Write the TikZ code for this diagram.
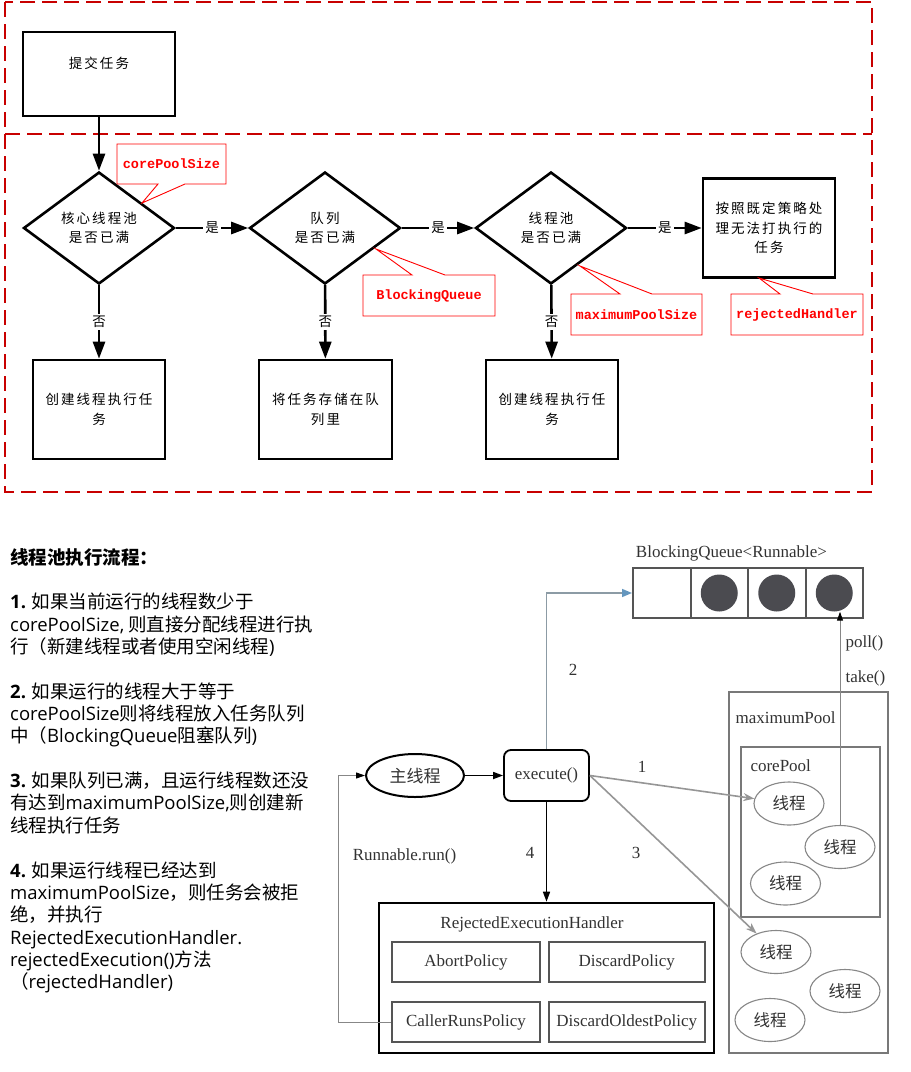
\documentclass[tikz,border=0pt]{standalone}
\usepackage{fontspec}
\setmainfont{Liberation Serif}
\newfontfamily\cjkfont{Noto Sans CJK SC}
\newfontfamily\cjkwide[LetterSpace=15]{Noto Sans CJK SC}
\newfontfamily\tagfont{Liberation Mono}
\newfontfamily\latfont{Open Sans}
\usetikzlibrary{shapes.geometric, arrows.meta}

\definecolor{dashred}{RGB}{200,0,0}
\definecolor{tagred}{RGB}{255,0,0}
\definecolor{pengray}{RGB}{85,85,85}
\definecolor{poolgray}{RGB}{120,120,120}
\definecolor{threadgray}{RGB}{135,135,135}
\definecolor{arrowgray}{RGB}{150,150,150}
\definecolor{linkgray}{RGB}{140,155,165}
\definecolor{linkblue}{RGB}{100,150,190}
\definecolor{dotgray}{RGB}{75,75,80}
\definecolor{inkgray}{RGB}{50,50,50}

\begin{document}
\begin{tikzpicture}[x=1pt, y=-1pt,
    cjktext/.style={font=\cjkwide\fontsize{13.5}{19.5}\selectfont, align=center},
    flowbox/.style={draw, line width=2.6pt, cjktext, inner sep=0pt},
    decision/.style={flowbox, diamond, aspect=1.35, minimum width=151pt, minimum height=112pt},
    flowarrow/.style={-{Triangle[length=17pt, width=12pt]}, line width=2.6pt},
    answer/.style={font=\cjkfont\fontsize{13.5}{15}\selectfont, fill=white, inner sep=2pt},
    tagshape/.style={draw=tagred, line width=0.9pt, fill=white},
    tagtext/.style={font=\tagfont\bfseries\fontsize{13.5}{13.5}\selectfont, text=tagred},
    redframe/.style={draw=dashred, line width=2pt, dash pattern=on 15pt off 7pt},
    notes/.style={font=\cjkfont\fontsize{18.5}{22.35}\selectfont, align=left, inner sep=0pt},
    serif/.style={font=\fontsize{17}{19}\selectfont, text=inkgray},
    worker/.style={ellipse, draw=threadgray, line width=1.1pt, minimum width=70pt, minimum height=43pt, inner sep=0pt, font=\cjkfont\fontsize{16.5}{18}\selectfont, text=inkgray},
    cell/.style={draw=pengray, line width=2pt, minimum width=57.5pt, minimum height=50pt, inner sep=0pt},
    job/.style={circle, fill=dotgray, minimum size=37pt, inner sep=0pt},
    policy/.style={serif, draw=pengray, line width=2pt, minimum height=40pt, inner sep=0pt},
    poolframe/.style={draw=poolgray, line width=2.2pt, inner sep=0pt},
    grayarrow/.style={draw=arrowgray, line width=1.6pt, -{Stealth[length=11pt, width=8pt]}},
    linkarrow/.style={draw=linkgray, line width=1.6pt, -{Triangle[length=10pt, width=8pt, color=linkblue]}},
    blackarrow/.style={line width=1.6pt, -{Triangle[length=10pt, width=7pt]}},
    thinarrow/.style={draw=threadgray, line width=1pt, -{Triangle[length=9pt, width=6pt, color=black]}}]

    \useasboundingbox (0,0) rectangle (911,1072);

    % Frame
    \draw[redframe] (5,2) rectangle (872,492);
    \draw[redframe] (5,134) -- (872,134);

    % Flow nodes
    \node[flowbox, minimum width=152pt, minimum height=84pt] (submit) at (99,74) {};
    \node[cjktext] (submittext) at (99,63) {提交任务};
    \node[decision] (core) at (99,228) {核心线程池\\是否已满};
    \node[decision] (queue) at (325,228) {队列\\是否已满};
    \node[decision] (pool) at (551,228) {线程池\\是否已满};
    \node[flowbox, minimum width=132pt, minimum height=99pt] (reject) at (769,228) {按照既定策略处\\理无法打执行的\\任务};
    \node[flowbox, minimum width=132pt, minimum height=99pt] (newcore) at (99,409.5) {创建线程执行任\\务};
    \node[flowbox, minimum width=133pt, minimum height=99pt] (store) at (325.5,409.5) {将任务存储在队\\列里};
    \node[flowbox, minimum width=132pt, minimum height=99pt] (newmax) at (552,409.5) {创建线程执行任\\务};

    % Flow edges
    \draw[flowarrow] (submit) -- (core);
    \draw[flowarrow] (core) -- node[answer] {是} (queue);
    \draw[flowarrow] (queue) -- node[answer] {是} (pool);
    \draw[flowarrow] (pool) -- node[answer] {是} (reject);
    \draw[flowarrow] (core) -- node[answer] {否} (newcore);
    \draw[flowarrow] (queue) -- node[answer] {否} (store);
    \draw[flowarrow] (pool) -- node[answer] {否} (newmax);

    % Callouts
    \path[tagshape] (117,144) -- (226,144) -- (226,184) -- (185,184) -- (142,203) -- (158,184) -- (117,184) -- cycle;
    \node[tagtext] (coretag) at (171.5,164) {corePoolSize};
    \path[tagshape] (363,275) -- (412,275) -- (376,249) -- (445,275) -- (495,275) -- (495,316) -- (363,316) -- cycle;
    \node[tagtext] (queuetag) at (429,296) {BlockingQueue};
    \path[tagshape] (571,294) -- (620,294) -- (580,266) -- (652,294) -- (702,294) -- (702,335) -- (571,335) -- cycle;
    \node[tagtext] (maxtag) at (636.5,315) {maximumPoolSize};
    \path[tagshape] (731,294) -- (780,294) -- (759,278) -- (813,294) -- (863,294) -- (863,335) -- (731,335) -- cycle;
    \node[tagtext] (rejecttag) at (797,315) {rejectedHandler};

    % Notes
    \node[notes, anchor=north west] (steps) at (10,548) {%
        {\bfseries 线程池执行流程：}\\[\baselineskip]
        {\latfont\bfseries 1.} 如果当前运行的线程数少于\\
        {\latfont corePoolSize,} 则直接分配线程进行执\\
        行（新建线程或者使用空闲线程{\latfont )}\\[\baselineskip]
        {\latfont\bfseries 2.} 如果运行的线程大于等于\\
        {\latfont corePoolSize}则将线程放入任务队列\\
        中（{\latfont BlockingQueue}阻塞队列{\latfont )}\\[\baselineskip]
        {\latfont\bfseries 3.} 如果队列已满，且运行线程数还没\\
        有达到{\latfont maximumPoolSize,}则创建新\\
        线程执行任务\\[\baselineskip]
        {\latfont\bfseries 4.} 如果运行线程已经达到\\
        {\latfont maximumPoolSize}，则任务会被拒\\
        绝，并执行\\
        {\latfont RejectedExecutionHandler.}\\
        {\latfont rejectedExecution()}方法\\
        （{\latfont rejectedHandler)}};

    % Queue
    \node[serif] (qtitle) at (731.5,553) {BlockingQueue<Runnable>};
    \node[cell] (slot1) at (661.75,593) {};
    \node[cell] (slot2) at (719.25,593) {};
    \node[cell] (slot3) at (776.75,593) {};
    \node[cell] (slot4) at (834.25,593) {};
    \node[job] (dot2) at (slot2) {};
    \node[job] (dot3) at (slot3) {};
    \node[job] (dot4) at (slot4) {};

    % Pools
    \node[poolframe, minimum width=159pt, minimum height=361pt] (maxpool) at (808.5,872.5) {};
    \node[serif, anchor=west] (maxlabel) at (732,718) {maximumPool};
    \node[poolframe, minimum width=139pt, minimum height=170pt] (corepool) at (810.5,832) {};
    \node[serif, anchor=west] (corelabel) at (747,766) {corePool};
    \node[worker] (w1) at (789,803.5) {线程};
    \node[worker] (w2) at (840,847) {线程};
    \node[worker] (w3) at (785.5,883.5) {线程};
    \node[worker] (w4) at (776,952) {线程};
    \node[worker] (w5) at (845,991) {线程};
    \node[worker] (w6) at (770,1020) {线程};

    % Caller side
    \node[draw, ellipse, line width=2pt, minimum width=98pt, minimum height=43pt, inner sep=0pt, font=\cjkfont\fontsize{17}{19}\selectfont, text=inkgray] (main) at (415,775.5) {主线程};
    \node[serif, draw=black, rounded corners=7pt, line width=1.8pt, minimum width=85pt, minimum height=51pt, inner sep=0pt] (exec) at (546.5,775.5) {execute()};
    \node[draw, line width=2.6pt, minimum width=335pt, minimum height=150pt, inner sep=0pt] (handler) at (546.5,978) {};
    \node[serif] (handlertitle) at (532,924) {RejectedExecutionHandler};
    \node[policy, minimum width=148pt] (abort) at (466,962) {AbortPolicy};
    \node[policy, minimum width=156.5pt] (discard) at (626.75,962) {DiscardPolicy};
    \node[policy, minimum width=148pt] (caller) at (466,1022) {CallerRunsPolicy};
    \node[policy, minimum width=156.5pt] (oldest) at (626.75,1022) {DiscardOldestPolicy};

    % Edges
    \draw[blackarrow] (main) -- (exec);
    \draw[linkarrow] (exec.north) |- (slot1.west);
    \draw[grayarrow] (exec.east) -- (w1);
    \draw[grayarrow] (exec.east) -- (w4);
    \draw[blackarrow] (exec) -- (handler);
    \draw[thinarrow] (caller.west) -- ++(-53,0) |- (main.west);
    \draw[thinarrow] (w2.north) -- (w2.north |- dot4.south);

    % Edge labels
    \node[serif] (one) at (642,767) {1};
    \node[serif] (two) at (573,670) {2};
    \node[serif] (three) at (636,853) {3};
    \node[serif] (four) at (530,853) {4};
    \node[serif] (runlabel) at (404.5,856) {Runnable.run()};
    \node[serif, anchor=west] (polllabel) at (842,643) {poll()};
    \node[serif, anchor=west] (takelabel) at (842,678) {take()};
\end{tikzpicture}
\end{document}
